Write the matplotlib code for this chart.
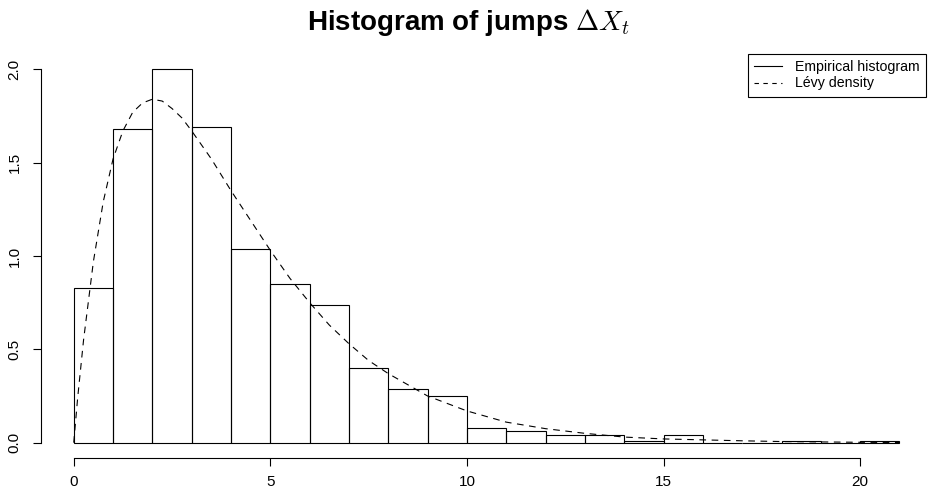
import matplotlib
matplotlib.use("Agg")
import matplotlib.pyplot as plt

plt.rcParams['font.family'] = ['Liberation Sans', 'DejaVu Sans']
plt.rcParams['mathtext.fontset'] = 'cm'

# histogram of the jumps, bins of width 1 on [0, 21]
bin_edges = list(range(0, 22))
bin_heights = [0.83, 1.68, 2.00, 1.69, 1.04, 0.85, 0.74, 0.40, 0.29, 0.25,
               0.08, 0.06, 0.04, 0.04, 0.01, 0.04, 0.0, 0.0, 0.007, 0.0, 0.007]

# Levy density evaluated along the x range
dens_x = [0, 0.1, 0.25, 0.5, 0.75, 1.0, 1.25, 1.5, 1.75, 2.0, 2.25, 2.5, 2.75,
          3.0, 3.5, 4.0, 4.5, 5.0, 5.5, 6.0, 6.5, 7.0, 7.5, 8.0, 9.0, 10.0,
          11.0, 12.0, 13.0, 14.0, 15.0, 16.0, 17.0, 18.0, 19.0, 20.0, 21.0]
dens_y = [0.0, 0.24, 0.55, 0.97, 1.29, 1.52, 1.67, 1.77, 1.82, 1.84, 1.83,
          1.79, 1.74, 1.67, 1.52, 1.35, 1.19, 1.03, 0.88, 0.75, 0.63, 0.53,
          0.44, 0.37, 0.25, 0.17, 0.11, 0.075, 0.05, 0.03, 0.02, 0.015, 0.01,
          0.006, 0.004, 0.002, 0.001]

x_ticks = [0, 5, 10, 15, 20]
y_ticks = [0.0, 0.5, 1.0, 1.5, 2.0]
legend_labels = ['Empirical histogram', 'Lévy density']

W, H = 929, 497
fig = plt.figure(figsize=(W / 100, H / 100), dpi=100)
ax = fig.add_axes([40.7 / W, (H - 457.6) / H, (932.5 - 40.7) / W, (457.6 - 54.4) / H])

ax.bar(bin_edges[:-1], bin_heights, width=1, align='edge', fill=False,
       edgecolor='black', linewidth=0.8)
ax.plot(dens_x, dens_y, color='black', linewidth=0.8, linestyle=(0, (6, 5)))

ax.set_xlim(-0.84, 21.84)
ax.set_ylim(-0.08, 2.08)

# R-style detached axes: lines only span the tick range
for side in ['top', 'right']:
    ax.spines[side].set_visible(False)
ax.spines['left'].set_bounds(0, 2)
ax.spines['bottom'].set_bounds(0, 20)
for side in ['left', 'bottom']:
    ax.spines[side].set_linewidth(0.8)

ax.set_xticks(x_ticks)
ax.set_xticklabels([str(t) for t in x_ticks])
ax.set_yticks(y_ticks)
ax.set_yticklabels(['%.1f' % t for t in y_ticks], rotation=90, va='center')
ax.tick_params(axis='both', direction='out', length=5.8, width=0.8, labelsize=11)
ax.tick_params(axis='x', pad=7)
ax.tick_params(axis='y', pad=8)

fig.text(468 / W, 1 - 30 / H, r'Histogram of jumps $\Delta X_t$',
         ha='center', va='baseline', fontsize=20, fontweight='bold')

handles = [plt.Line2D([], [], color='black', lw=0.8),
           plt.Line2D([], [], color='black', lw=0.8, linestyle=(0, (4, 4)))]
leg = ax.legend(handles=handles, labels=legend_labels,
                loc='upper right', bbox_to_anchor=(926 / W, 1 - 54 / H),
                bbox_transform=fig.transFigure, borderaxespad=0,
                fontsize=10.2, frameon=True, fancybox=False, framealpha=1,
                edgecolor='black', handlelength=2.0, handletextpad=0.9,
                borderpad=0.45, labelspacing=0.15)
leg.get_frame().set_linewidth(0.8)

fig.savefig('out.png', dpi=100)
